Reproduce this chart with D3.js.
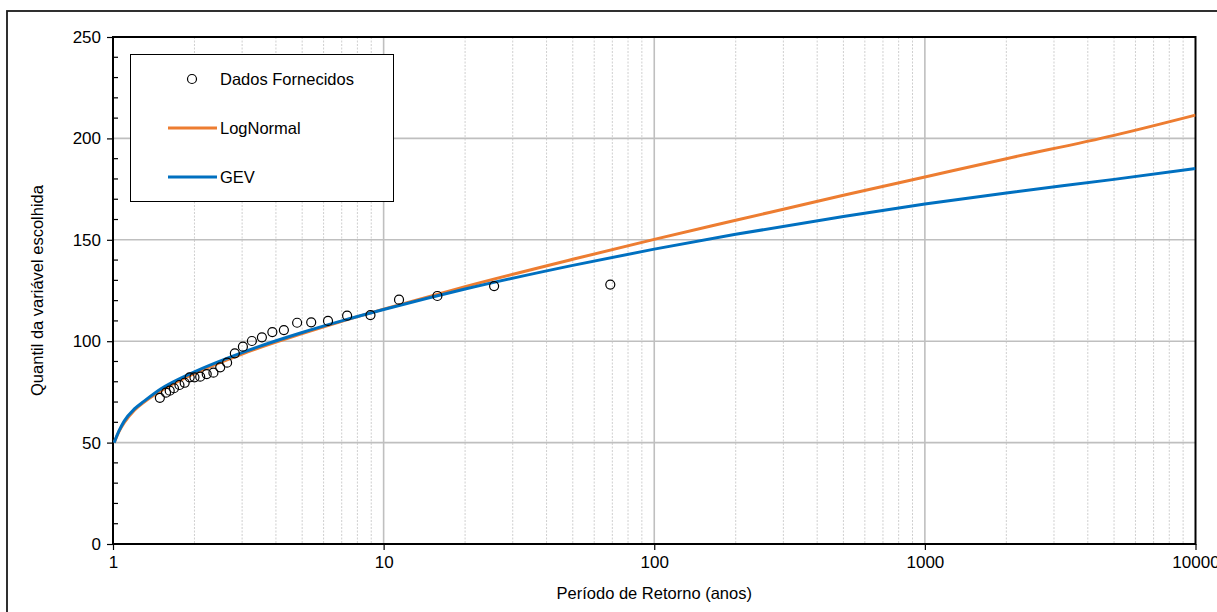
<!DOCTYPE html>
<html>
<head>
<meta charset="utf-8">
<script src="https://cdn.jsdelivr.net/npm/d3@7"></script>
<style>
    body { margin: 0; background: #fff; }
    svg { display: block; font-family: "Liberation Sans", Arial, sans-serif; }
</style>
</head>
<body>
<svg id="chart" width="1217" height="612"></svg>
<script>
// observed points (return period in years, quantile)
const obsPeriods = [1.49, 1.57, 1.62, 1.68, 1.76, 1.84, 1.92, 2.0, 2.1, 2.22, 2.35, 2.49, 2.64, 2.82,
    3.02, 3.26, 3.55, 3.88, 4.28, 4.79, 5.4, 6.23, 7.33, 8.94, 11.4, 15.8, 25.6, 68.8];
const obsValues = [72.1, 74.6, 75.6, 76.8, 78.4, 79.5, 82.2, 82.2, 82.5, 83.8, 84.5, 87.1, 89.4, 94.0,
    97.3, 100.1, 101.9, 104.5, 105.5, 109.1, 109.3, 110.0, 112.6, 112.9, 120.5, 122.3, 127.2, 127.9];

// fitted curves
const curvePeriods = [1.01, 1.05, 1.1, 1.2, 1.3, 1.5, 2, 3, 5, 7, 10, 20, 50, 100, 200, 500, 1000, 2000, 5000, 10000];
const logNormalValues = [50, 55.2, 59.8, 66.0, 69.9, 75.5, 84.1, 93.7, 103.7, 109.8, 115.8, 126.9, 140.4,
    150.2, 159.6, 172.0, 181.0, 190.0, 201.5, 211.5];
const gevValues = [50, 55.5, 60.6, 66.6, 70.3, 76.4, 84.9, 94.4, 104.3, 110.0, 115.6, 125.7, 137.4,
    145.4, 152.7, 161.5, 167.6, 173.1, 179.8, 185.2];

const yTicks = [0, 50, 100, 150, 200, 250];
const xTicks = [1, 10, 100, 1000, 10000];
const seriesNames = ["Dados Fornecidos", "LogNormal", "GEV"];

const orange = "#ED7D31", blue = "#0070C0", grid = "#BFBFBF";

const svg = d3.select("#chart");
const plot = {left: 113, right: 1195.5, top: 37, bottom: 544};

const x = d3.scaleLog().domain([1, 10000]).range([plot.left, plot.right]);
const y = d3.scaleLinear().domain([0, 250]).range([plot.bottom, plot.top]);

// outer frame of the chart object (runs off the picture)
svg.append("rect")
    .attr("x", 7).attr("y", 11)
    .attr("width", 1300).attr("height", 700)
    .attr("fill", "none").attr("stroke", "#1a1a1a").attr("stroke-width", 1.8);

// minor vertical grid
const minorX = [];
for (let d = 1; d < 10000; d *= 10) {
    for (let k = 2; k <= 9; k++) minorX.push(d * k);
}
svg.append("g").selectAll("line")
    .data(minorX)
    .enter().append("line")
    .attr("x1", d => x(d)).attr("x2", d => x(d))
    .attr("y1", plot.top).attr("y2", plot.bottom)
    .attr("stroke", "#cfcfcf").attr("stroke-width", 1)
    .attr("stroke-dasharray", "2,1.5");

// major grid
svg.append("g").selectAll("line")
    .data(xTicks.slice(1, -1))
    .enter().append("line")
    .attr("x1", d => x(d)).attr("x2", d => x(d))
    .attr("y1", plot.top).attr("y2", plot.bottom)
    .attr("stroke", grid).attr("stroke-width", 1.6);

svg.append("g").selectAll("line")
    .data(yTicks.slice(1, -1))
    .enter().append("line")
    .attr("x1", plot.left).attr("x2", plot.right)
    .attr("y1", d => y(d)).attr("y2", d => y(d))
    .attr("stroke", grid).attr("stroke-width", 1.6);

// axes
const yAxis = svg.append("g")
    .attr("transform", `translate(${plot.left},0)`)
    .call(d3.axisLeft(y).tickValues(yTicks).tickSize(6).tickPadding(6));
yAxis.select(".domain").remove();
yAxis.selectAll(".tick line").attr("stroke", "#000").attr("stroke-width", 1.2);
yAxis.selectAll("text").attr("font-size", 17).attr("fill", "#000");

// minor y ticks, inside
const minorY = d3.range(10, 250, 10).filter(v => v % 50 !== 0);
svg.append("g").selectAll("line")
    .data(minorY)
    .enter().append("line")
    .attr("x1", plot.left).attr("x2", plot.left + 5)
    .attr("y1", d => y(d)).attr("y2", d => y(d))
    .attr("stroke", "#000").attr("stroke-width", 1.2);

const xAxis = svg.append("g")
    .attr("transform", `translate(0,${plot.bottom})`)
    .call(d3.axisBottom(x).tickValues(xTicks).tickFormat(d3.format("d")).tickSize(6).tickPadding(6));
xAxis.select(".domain").remove();
xAxis.selectAll(".tick line").attr("stroke", "#000").attr("stroke-width", 1.2);
xAxis.selectAll("text").attr("font-size", 17).attr("fill", "#000");

// plot area border
svg.append("rect")
    .attr("x", plot.left).attr("y", plot.top)
    .attr("width", plot.right - plot.left).attr("height", plot.bottom - plot.top)
    .attr("fill", "none").attr("stroke", "#000").attr("stroke-width", 2);

// curves
const clip = svg.append("clipPath").attr("id", "plot-clip")
    .append("rect")
    .attr("x", plot.left).attr("y", plot.top)
    .attr("width", plot.right - plot.left).attr("height", plot.bottom - plot.top);

const line = d3.line()
    .x(d => x(d[0]))
    .y(d => y(d[1]))
    .curve(d3.curveMonotoneX);

svg.append("path")
    .datum(d3.zip(curvePeriods, logNormalValues))
    .attr("clip-path", "url(#plot-clip)")
    .attr("fill", "none").attr("stroke", orange).attr("stroke-width", 3)
    .attr("d", line);

svg.append("path")
    .datum(d3.zip(curvePeriods, gevValues))
    .attr("clip-path", "url(#plot-clip)")
    .attr("fill", "none").attr("stroke", blue).attr("stroke-width", 3)
    .attr("d", line);

// observed points
svg.append("g").selectAll("circle")
    .data(d3.zip(obsPeriods, obsValues))
    .enter().append("circle")
    .attr("cx", d => x(d[0]))
    .attr("cy", d => y(d[1]))
    .attr("r", 4.5)
    .attr("fill", "none").attr("stroke", "#000").attr("stroke-width", 1.2);

// legend
const legend = svg.append("g");
legend.append("rect")
    .attr("x", 130.5).attr("y", 54.5).attr("width", 263).attr("height", 147)
    .attr("fill", "#fff").attr("stroke", "#000").attr("stroke-width", 1);

legend.append("circle")
    .attr("cx", 192).attr("cy", 79).attr("r", 4.5)
    .attr("fill", "none").attr("stroke", "#000").attr("stroke-width", 1.2);
legend.append("line")
    .attr("x1", 168).attr("x2", 217).attr("y1", 128).attr("y2", 128)
    .attr("stroke", orange).attr("stroke-width", 3);
legend.append("line")
    .attr("x1", 168).attr("x2", 217).attr("y1", 177).attr("y2", 177)
    .attr("stroke", blue).attr("stroke-width", 3);

legend.selectAll("text")
    .data(seriesNames)
    .enter().append("text")
    .attr("x", 220)
    .attr("y", (d, i) => 79 + i * 49)
    .attr("dy", "0.35em")
    .attr("font-size", 16.5)
    .text(d => d);

// axis titles
svg.append("text")
    .attr("x", (plot.left + plot.right) / 2)
    .attr("y", 599)
    .attr("text-anchor", "middle")
    .attr("font-size", 16.5)
    .text("Período de Retorno (anos)");

svg.append("text")
    .attr("transform", `translate(43,${(plot.top + plot.bottom) / 2}) rotate(-90)`)
    .attr("text-anchor", "middle")
    .attr("font-size", 16.5)
    .text("Quantil da variável escolhida");
</script>
</body>
</html>
